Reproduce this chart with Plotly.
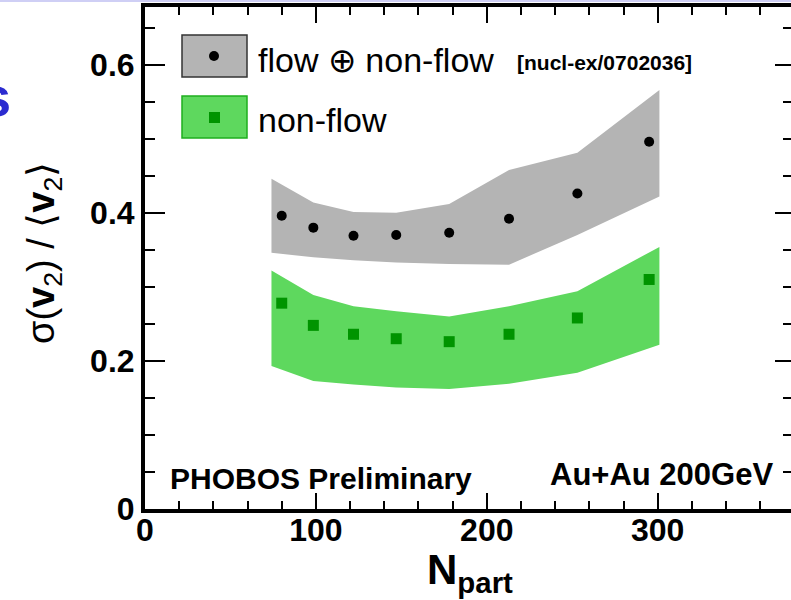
import plotly.graph_objects as go

# Centrality (number of participants) of each measured bin
npart = [80, 98.5, 122, 147, 178, 213, 253, 295]
# sigma(v2)/<v2> including non-flow, and the non-flow contribution alone
total_ratio = [0.396, 0.380, 0.369, 0.370, 0.373, 0.392, 0.426, 0.496]
nonflow_ratio = [0.278, 0.248, 0.236, 0.230, 0.226, 0.236, 0.258, 0.310]

# Systematic-error bands
band_npart = [74, 98.5, 122, 147, 178, 213, 253, 301]
total_hi = [0.446, 0.414, 0.401, 0.400, 0.412, 0.458, 0.481, 0.566]
total_lo = [0.346, 0.340, 0.336, 0.333, 0.331, 0.330, 0.370, 0.422]
nonflow_hi = [0.322, 0.289, 0.274, 0.267, 0.260, 0.274, 0.294, 0.354]
nonflow_lo = [0.193, 0.173, 0.168, 0.164, 0.162, 0.169, 0.184, 0.222]

x_range = [0, 378]
y_range = [0, 0.678]

W, H = 791, 600
ML, MR, MT, MB = 145, 0, 7, 91
PW, PH = W - ML - MR, H - MT - MB

GRAY = "#b4b4b4"
GREEN = "#5ed85e"
DKGREEN = "#009400"
FONT = "Liberation Sans"


def px(x):
    """pixel column -> paper x"""
    return (x - ML) / PW


def py(y):
    """pixel row -> paper y"""
    return (H - MB - y) / PH


fig = go.Figure()

# bands
fig.add_trace(go.Scatter(x=band_npart, y=total_lo, mode="lines", line=dict(width=0),
                         showlegend=False, hoverinfo="skip"))
fig.add_trace(go.Scatter(x=band_npart, y=total_hi, mode="lines", line=dict(width=0),
                         fill="tonexty", fillcolor=GRAY, showlegend=False, hoverinfo="skip"))
fig.add_trace(go.Scatter(x=band_npart, y=nonflow_lo, mode="lines", line=dict(width=0),
                         showlegend=False, hoverinfo="skip"))
fig.add_trace(go.Scatter(x=band_npart, y=nonflow_hi, mode="lines", line=dict(width=0),
                         fill="tonexty", fillcolor=GREEN, showlegend=False, hoverinfo="skip"))

# points
fig.add_trace(go.Scatter(x=npart, y=total_ratio, mode="markers",
                         marker=dict(symbol="circle", size=10, color="black"),
                         name="flow ⊕ non-flow", showlegend=False))
fig.add_trace(go.Scatter(x=npart, y=nonflow_ratio, mode="markers",
                         marker=dict(symbol="square", size=11, color=DKGREEN),
                         name="non-flow", showlegend=False))

# carrier for the right-hand tick axis
fig.add_trace(go.Scatter(x=[None], y=[None], yaxis="y2", showlegend=False, hoverinfo="skip"))

tickfont = dict(family=FONT, size=32, color="black", weight="bold")

fig.update_layout(
    width=W, height=H,
    margin=dict(l=ML, r=MR, t=MT, b=MB, pad=0),
    paper_bgcolor="white", plot_bgcolor="white",
    showlegend=False,
    xaxis=dict(range=x_range, showgrid=False, zeroline=False,
               showline=True, linecolor="black", linewidth=4, mirror="ticks",
               ticks="inside", ticklen=16, tickwidth=2, tickcolor="black",
               tick0=0, dtick=100, tickfont=tickfont, ticklabelstandoff=-10,
               minor=dict(ticks="inside", dtick=20, ticklen=8, tickwidth=2, tickcolor="black")),
    yaxis=dict(range=y_range, showgrid=False, zeroline=False,
               showline=True, linecolor="black", linewidth=4, mirror=False,
               ticks="inside", ticklen=20, tickwidth=2, tickcolor="black",
               tick0=0, dtick=0.2, tickfont=tickfont,
               minor=dict(ticks="inside", dtick=0.05, ticklen=10, tickwidth=2, tickcolor="black")),
    yaxis2=dict(range=y_range, overlaying="y", side="right", showgrid=False, zeroline=False,
                showline=False, showticklabels=False,
                ticks="inside", ticklen=16, tickwidth=2, tickcolor="black",
                tick0=0, dtick=0.2,
                minor=dict(ticks="inside", dtick=0.05, ticklen=8, tickwidth=2, tickcolor="black")),
)

shapes = []
# thin header rule along the top edge
shapes.append(dict(type="line", xref="paper", yref="paper", x0=px(0), x1=px(W),
                   y0=py(1), y1=py(1), line=dict(color="#cfcff5", width=2), layer="above"))
# legend boxes
shapes.append(dict(type="rect", xref="paper", yref="paper", x0=px(182), x1=px(247),
                   y0=py(77), y1=py(35), fillcolor=GRAY, line=dict(color="#333333", width=1.5),
                   layer="above"))
shapes.append(dict(type="circle", xref="paper", yref="paper", x0=px(209), x1=px(219),
                   y0=py(61), y1=py(51), fillcolor="black", line=dict(width=0), layer="above"))
shapes.append(dict(type="rect", xref="paper", yref="paper", x0=px(182), x1=px(247),
                   y0=py(138), y1=py(96), fillcolor=GREEN, line=dict(color="#1fae1f", width=1.5),
                   layer="above"))
shapes.append(dict(type="rect", xref="paper", yref="paper", x0=px(209), x1=px(220),
                   y0=py(123), y1=py(112), fillcolor=DKGREEN, line=dict(width=0), layer="above"))
fig.update_layout(shapes=shapes)

ann = []


def text(x, y, s, size, xanchor="left", bold=False, color="black", angle=0):
    ann.append(dict(xref="paper", yref="paper", x=px(x), y=py(y), text=s, showarrow=False,
                    xanchor=xanchor, yanchor="middle", textangle=angle,
                    font=dict(family=FONT, size=size, color=color,
                              weight="bold" if bold else "normal")))


text(256, 60, "flow ⊕ non-flow", 34)
text(515, 62, "[nucl-ex/0702036]", 21, bold=True)
text(256, 120, "non-flow", 34)
text(168, 478, "PHOBOS Preliminary", 30, bold=True)
text(775, 474, "Au+Au 200GeV", 31, xanchor="right", bold=True)
text(470, 572, "<b>N<sub>part</sub></b>", 42, xanchor="center")
text(44, 253, "σ(<b>v</b><sub>2</sub>) / ⟨<b>v</b><sub>2</sub>⟩", 38, xanchor="center", angle=-90)
text(13, 97, "<b>s</b>", 56, xanchor="right", color="#2b2bd0")
fig.update_layout(annotations=ann)

fig.write_html("out.html")
